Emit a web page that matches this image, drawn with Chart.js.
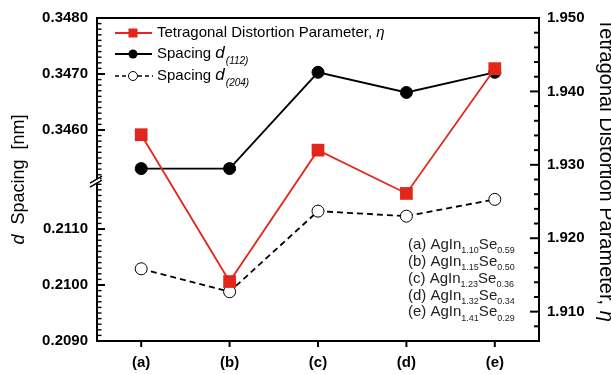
<!DOCTYPE html>
<html>
<head>
<meta charset="utf-8">
<script src="https://cdn.jsdelivr.net/npm/chart.js@4/dist/chart.umd.min.js"></script>
<style>
  html, body { margin: 0; padding: 0; background: #fff; }
  #wrap { width: 611px; height: 374px; overflow: hidden; }
</style>
</head>
<body>
<div id="wrap"><canvas id="c" width="611" height="374"></canvas></div>
<script>
// Samples
const categories = ['(a)', '(b)', '(c)', '(d)', '(e)'];

// Tetragonal distortion parameter (right axis)
const eta = [1.9341, 1.9141, 1.9320, 1.9261, 1.9431];
// d-spacings in nm (left, broken axis)
const d112 = [0.34531, 0.34531, 0.34703, 0.34667, 0.34703];
const d204 = [0.21029, 0.20988, 0.21132, 0.21123, 0.21153];

// Labelled tick values
const upperTicks = [0.3460, 0.3470, 0.3480];
const lowerTicks = [0.2090, 0.2100, 0.2110];
const etaTicks = [1.910, 1.920, 1.930, 1.940, 1.950];

// Axis ranges (left axis is split in two segments)
const upperRange = [0.34513, 0.3480];
const lowerRange = [0.2090, 0.2119];
const etaRange = [1.906, 1.950];

// Composition key: [label, In index, Se index]
const compositions = [
  ['(a) AgIn', '1.10', '0.59'],
  ['(b) AgIn', '1.15', '0.50'],
  ['(c) AgIn', '1.23', '0.36'],
  ['(d) AgIn', '1.32', '0.34'],
  ['(e) AgIn', '1.41', '0.29']
];

const RED = '#e3261c';
const FONT = '"Liberation Sans", Arial, sans-serif';
const tickFont = { family: FONT, size: 15, weight: 'bold' };

function fixTicks(values) {
  return function (scale) { scale.ticks = values.map(v => ({ value: v })); };
}

function hTick(ctx, x0, x1, y, w) {
  ctx.lineWidth = w;
  ctx.beginPath(); ctx.moveTo(x0, y); ctx.lineTo(x1, y); ctx.stroke();
}

// Frame, inward ticks, axis break, titles, legend and composition key
const decor = {
  id: 'decor',
  afterDatasetsDraw(chart) {
    const ctx = chart.ctx;
    const a = chart.chartArea;
    const yT = chart.scales.yTop, yB = chart.scales.yBot, yR = chart.scales.yR, x = chart.scales.x;
    ctx.save();
    ctx.strokeStyle = '#000';
    ctx.lineCap = 'butt';

    // ruler ticks on the two left segments
    for (let i = 3450; i <= 3480; i++) {
      const v = i / 10000;
      if (v < upperRange[0]) continue;
      const y = yT.getPixelForValue(v);
      const major = i % 10 === 0;
      hTick(ctx, a.left, a.left + (major ? 8 : 4.5), y, major ? 2 : 1.4);
    }
    for (let i = 2090; i <= 2119; i++) {
      const v = i / 10000;
      if (v > lowerRange[1]) continue;
      const y = yB.getPixelForValue(v);
      const major = i % 10 === 0;
      hTick(ctx, a.left, a.left + (major ? 8 : 4.5), y, major ? 2 : 1.4);
    }
    // right axis ticks
    for (let i = 1906; i <= 1950; i += 2) {
      const y = yR.getPixelForValue(i / 1000);
      const major = i % 10 === 0;
      hTick(ctx, a.right, a.right - (major ? 9 : 5), y, 2);
    }
    // bottom ticks (outward)
    ctx.lineWidth = 2;
    categories.forEach((c, i) => {
      const px = x.getPixelForValue(i);
      ctx.beginPath(); ctx.moveTo(px, a.bottom); ctx.lineTo(px, a.bottom + 6); ctx.stroke();
    });

    // frame
    ctx.lineWidth = 2;
    ctx.beginPath();
    ctx.moveTo(a.left, a.top); ctx.lineTo(a.right, a.top); ctx.lineTo(a.right, a.bottom);
    ctx.lineTo(a.left - 1, a.bottom);
    ctx.moveTo(a.left, a.bottom); ctx.lineTo(a.left, a.top - 1);
    ctx.stroke();

    // axis break between the two segments
    const yb = yT.bottom;
    ctx.fillStyle = '#fff';
    ctx.beginPath();
    ctx.moveTo(a.left - 3, yb + 2); ctx.lineTo(a.left + 3, yb - 1.5);
    ctx.lineTo(a.left + 3, yb + 2.5); ctx.lineTo(a.left - 3, yb + 6);
    ctx.closePath(); ctx.fill();
    ctx.lineWidth = 1.5;
    ctx.beginPath();
    ctx.moveTo(a.left - 7, yb + 4.5); ctx.lineTo(a.left + 5, yb - 2.5);
    ctx.moveTo(a.left - 7, yb + 8.5); ctx.lineTo(a.left + 5, yb + 1.5);
    ctx.stroke();
    ctx.restore();
  },
  afterDraw(chart) {
    const ctx = chart.ctx;
    const a = chart.chartArea;
    ctx.save();
    ctx.fillStyle = '#000';
    ctx.textBaseline = 'middle';

    // left axis title
    ctx.save();
    ctx.translate(19, (a.top + a.bottom) / 2);
    ctx.rotate(-Math.PI / 2);
    const f1 = 'italic 18px ' + FONT, f2 = '18px ' + FONT;
    ctx.font = f1; const wD = ctx.measureText('d').width;
    ctx.font = f2; const rest = '  Spacing  [nm]'; const wR = ctx.measureText(rest).width;
    let sx = -(wD + wR) / 2;
    ctx.textAlign = 'left';
    ctx.font = f1; ctx.fillText('d', sx, 0);
    ctx.font = f2; ctx.fillText(rest, sx + wD, 0);
    ctx.restore();

    // right axis title
    ctx.save();
    ctx.translate(606, 170);
    ctx.rotate(Math.PI / 2);
    const g1 = '20px ' + FONT, g2 = 'italic 20px ' + FONT;
    const t1 = 'Tetragonal Distortion Parameter, ';
    ctx.font = g1; const w1 = ctx.measureText(t1).width;
    ctx.font = g2; const w2 = ctx.measureText('η').width;
    sx = -(w1 + w2) / 2;
    ctx.textAlign = 'left';
    ctx.font = g1; ctx.fillText(t1, sx, 0);
    ctx.font = g2; ctx.fillText('η', sx + w1, 0);
    ctx.restore();

    // legend
    const lx0 = 115, lx1 = 152, lmx = 133, tx = 157;
    const rows = [33, 54, 76];
    ctx.textAlign = 'left';
    // row 1
    ctx.strokeStyle = RED; ctx.lineWidth = 1.8;
    ctx.beginPath(); ctx.moveTo(lx0, rows[0]); ctx.lineTo(lx1, rows[0]); ctx.stroke();
    ctx.fillStyle = RED; ctx.fillRect(lmx - 4.5, rows[0] - 4.5, 9, 9);
    ctx.fillStyle = '#000';
    ctx.font = '15px ' + FONT;
    const l1 = 'Tetragonal Distortion Parameter, ';
    ctx.fillText(l1, tx, rows[0]);
    const wl1 = ctx.measureText(l1).width;
    ctx.font = 'italic 15px ' + FONT; ctx.fillText('η', tx + wl1, rows[0]);
    // row 2
    ctx.strokeStyle = '#000'; ctx.lineWidth = 1.8;
    ctx.beginPath(); ctx.moveTo(lx0, rows[1]); ctx.lineTo(lx1, rows[1]); ctx.stroke();
    ctx.beginPath(); ctx.arc(lmx, rows[1], 4.5, 0, Math.PI * 2); ctx.fill();
    // row 3
    ctx.lineWidth = 1.5; ctx.setLineDash([4, 3]);
    ctx.beginPath(); ctx.moveTo(lx0, rows[2]); ctx.lineTo(lmx - 5, rows[2]);
    ctx.moveTo(lmx + 5, rows[2]); ctx.lineTo(lx1 + 1, rows[2]); ctx.stroke();
    ctx.setLineDash([]);
    ctx.lineWidth = 1; ctx.fillStyle = '#fff';
    ctx.beginPath(); ctx.arc(lmx, rows[2], 4.5, 0, Math.PI * 2); ctx.fill(); ctx.stroke();
    ctx.fillStyle = '#000';
    [['(112)', rows[1]], ['(204)', rows[2]]].forEach(([sub, y]) => {
      ctx.font = '15px ' + FONT; ctx.fillText('Spacing ', tx, y);
      let w = ctx.measureText('Spacing ').width;
      ctx.font = 'italic 17px ' + FONT; ctx.fillText('d', tx + w, y - 1);
      w += ctx.measureText('d').width + 1;
      ctx.font = 'italic 10px ' + FONT; ctx.fillText(sub, tx + w, y + 7);
    });

    // composition key
    ctx.fillStyle = '#222';
    compositions.forEach((row, i) => {
      const y = 245 + i * 16.8;
      let px = 408;
      ctx.font = '15px ' + FONT; ctx.fillText(row[0], px, y);
      px += ctx.measureText(row[0]).width;
      ctx.font = '9px ' + FONT; ctx.fillText(row[1], px, y + 6);
      px += ctx.measureText(row[1]).width;
      ctx.font = '15px ' + FONT; ctx.fillText('Se', px, y);
      px += ctx.measureText('Se').width;
      ctx.font = '9px ' + FONT; ctx.fillText(row[2], px, y + 6);
    });
    ctx.restore();
  }
};

new Chart(document.getElementById('c'), {
  type: 'line',
  data: {
    labels: categories,
    datasets: [
      {
        label: 'Tetragonal Distortion Parameter, η',
        data: eta,
        yAxisID: 'yR',
        borderColor: RED,
        backgroundColor: RED,
        borderWidth: 1.8,
        pointStyle: 'rect',
        pointRadius: 9,
        pointBorderWidth: 0,
        pointBackgroundColor: RED
      },
      {
        label: 'Spacing d(112)',
        data: d112,
        yAxisID: 'yTop',
        borderColor: '#000',
        backgroundColor: '#000',
        borderWidth: 1.8,
        pointStyle: 'circle',
        pointRadius: 6,
        pointBorderWidth: 1,
        pointBackgroundColor: '#000'
      },
      {
        label: 'Spacing d(204)',
        data: d204,
        yAxisID: 'yBot',
        borderColor: '#000',
        backgroundColor: '#fff',
        borderWidth: 1.8,
        borderDash: [6, 4],
        pointStyle: 'circle',
        pointRadius: 6,
        pointBorderWidth: 1,
        pointBackgroundColor: '#fff',
        pointBorderColor: '#000'
      }
    ]
  },
  options: {
    responsive: false,
    animation: false,
    events: [],
    layout: { padding: { top: 16, left: 0, right: 0, bottom: 0 } },
    elements: { line: { tension: 0 } },
    plugins: { legend: { display: false }, tooltip: { enabled: false } },
    scales: {
      x: {
        type: 'category',
        position: 'bottom',
        offset: true,
        grid: { display: false, drawTicks: false },
        border: { display: false },
        ticks: { font: tickFont, color: '#000', padding: 13, maxRotation: 0 },
        afterFit: s => { s.height = 33; }
      },
      yBot: {
        type: 'linear',
        position: 'left',
        stack: 'd',
        stackWeight: lowerRange[1] - lowerRange[0],
        min: lowerRange[0],
        max: lowerRange[1],
        afterBuildTicks: fixTicks(lowerTicks),
        grid: { display: false, drawTicks: false },
        border: { display: false },
        ticks: { font: tickFont, color: '#000', padding: 9, callback: v => v.toFixed(4) },
        afterFit: s => { s.width = 97; }
      },
      yTop: {
        type: 'linear',
        position: 'left',
        stack: 'd',
        stackWeight: upperRange[1] - upperRange[0],
        min: upperRange[0],
        max: upperRange[1],
        afterBuildTicks: fixTicks(upperTicks),
        grid: { display: false, drawTicks: false },
        border: { display: false },
        ticks: { font: tickFont, color: '#000', padding: 9, callback: v => v.toFixed(4) },
        afterFit: s => { s.width = 97; }
      },
      yR: {
        type: 'linear',
        position: 'right',
        min: etaRange[0],
        max: etaRange[1],
        afterBuildTicks: fixTicks(etaTicks),
        grid: { display: false, drawTicks: false },
        border: { display: false },
        ticks: { font: tickFont, color: '#000', padding: 8, callback: v => v.toFixed(3) },
        afterFit: s => { s.width = 72; }
      }
    }
  },
  plugins: [decor]
});
</script>
</body>
</html>
